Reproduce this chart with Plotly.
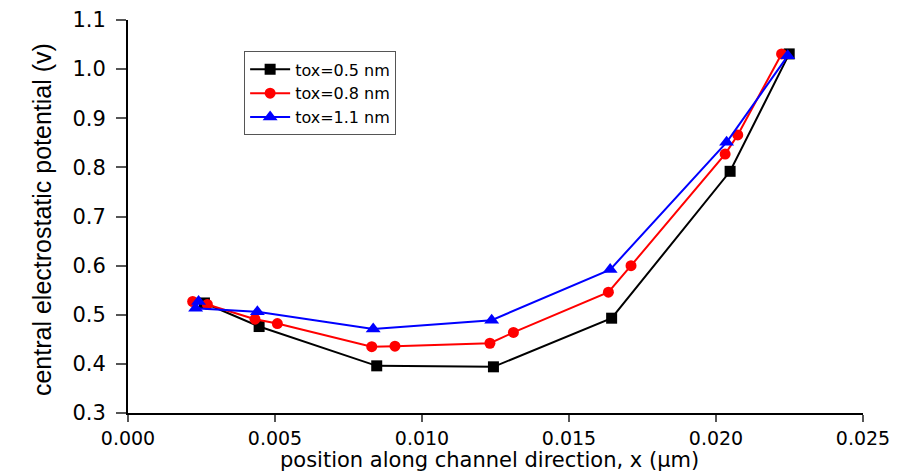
import plotly.graph_objects as go

# data
x_05 = [0.0026, 0.00446, 0.00846, 0.01243, 0.01645, 0.02048, 0.02249]
y_05 = [0.524, 0.476, 0.396, 0.394, 0.493, 0.792, 1.031]

x_08 = [0.0022, 0.0027, 0.00432, 0.00508, 0.00829, 0.00908, 0.01231, 0.01311,
        0.01634, 0.01711, 0.02031, 0.02074, 0.02223]
y_08 = [0.527, 0.521, 0.491, 0.482, 0.435, 0.436, 0.442, 0.464,
        0.546, 0.600, 0.827, 0.866, 1.031]

x_11 = [0.0024, 0.0023, 0.0044, 0.00834, 0.01237, 0.0164, 0.02036, 0.02244]
y_11 = [0.527, 0.513, 0.506, 0.471, 0.489, 0.592, 0.851, 1.027]

names = ["tox=0.5 nm", "tox=0.8 nm", "tox=1.1 nm"]

x_ticks = [0.000, 0.005, 0.010, 0.015, 0.020, 0.025]
x_tick_text = ["0.000", "0.005", "0.010", "0.015", "0.020", "0.025"]
y_ticks = [0.3, 0.4, 0.5, 0.6, 0.7, 0.8, 0.9, 1.0, 1.1]
y_tick_text = ["0.3", "0.4", "0.5", "0.6", "0.7", "0.8", "0.9", "1.0", "1.1"]

x_title = "position along channel direction, x (μm)"
y_title = "central electrostatic potential (v)"

WIDE = "DejaVu Sans, Verdana, sans-serif"
ARIAL = "Liberation Sans, Arial, sans-serif"

fig = go.Figure()
fig.add_trace(go.Scatter(x=x_05, y=y_05, name=names[0], mode="lines+markers",
                         line=dict(color="black", width=2),
                         marker=dict(symbol="square", size=11, color="black")))
fig.add_trace(go.Scatter(x=x_08, y=y_08, name=names[1], mode="lines+markers",
                         line=dict(color="#ff0000", width=2),
                         marker=dict(symbol="circle", size=11, color="#ff0000")))
fig.add_trace(go.Scatter(x=x_11, y=y_11, name=names[2], mode="lines+markers",
                         line=dict(color="#0000ff", width=2),
                         marker=dict(symbol="triangle-up", size=13, color="#0000ff")))

fig.update_layout(
    width=904, height=472,
    margin=dict(l=128, r=41, t=20, b=59),
    paper_bgcolor="white", plot_bgcolor="white",
    font=dict(family=WIDE, color="black"),
    showlegend=True,
    legend=dict(x=0.158, y=0.92, xanchor="left", yanchor="top",
                bgcolor="white", bordercolor="#555555", borderwidth=1,
                font=dict(family=WIDE, size=16, color="black"),
                itemwidth=40, tracegroupgap=0),
    xaxis=dict(range=[0, 0.025], tickvals=x_ticks, ticktext=x_tick_text,
               automargin=False,
               showgrid=False, zeroline=False, showline=True, linecolor="black",
               linewidth=2, ticks="outside", ticklen=7, tickwidth=2, tickcolor="#555555",
               tickfont=dict(family=WIDE, size=19)),
    yaxis=dict(range=[0.3, 1.1], tickvals=y_ticks, ticktext=y_tick_text,
               automargin=False,
               showgrid=False, zeroline=False, showline=True, linecolor="black",
               linewidth=2, ticks="outside", ticklen=10, tickwidth=2, tickcolor="#555555",
               ticklabelstandoff=6,
               tickfont=dict(family=WIDE, size=21)),
    annotations=[
        dict(text=x_title, xref="paper", yref="paper", x=0.4925, y=0,
             xanchor="center", yanchor="bottom", yshift=-61, showarrow=False,
             font=dict(family=WIDE, size=21, color="black")),
        dict(text=y_title, xref="paper", yref="paper", x=-0.117, y=0.491,
             xanchor="center", yanchor="middle", textangle=-90, showarrow=False,
             font=dict(family=ARIAL, size=25, color="black")),
    ],
)

fig.write_html("out.html")
